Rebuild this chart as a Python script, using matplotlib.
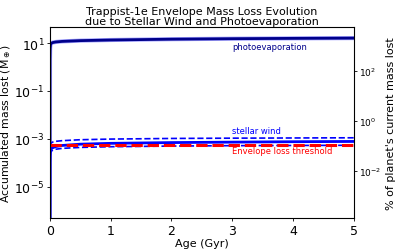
import numpy as np
import matplotlib
matplotlib.use("Agg")
import matplotlib.pyplot as plt
from matplotlib.ticker import NullLocator

# ages (Gyr) and accumulated mass lost (Earth masses)
age = [0.0, 0.002, 0.005, 0.01, 0.02, 0.05, 0.1, 0.2, 0.5, 1.0, 2.0, 3.0, 4.0, 5.0]
photoevap = [1e-7, 2.0, 6.0, 8.5, 9.8, 10.6, 11.2, 11.8, 12.7, 13.5, 14.6, 15.3, 15.8, 16.2]
wind = [1e-7, 1e-4, 2.5e-4, 3.3e-4, 3.9e-4, 4.3e-4, 4.8e-4, 5.3e-4, 6.0e-4, 6.5e-4, 7.0e-4, 7.3e-4, 7.6e-4, 7.8e-4]
wind_hi = [1e-7, 2e-4, 4.5e-4, 6.0e-4, 6.8e-4, 7.4e-4, 7.9e-4, 8.4e-4, 9.2e-4, 9.8e-4, 1.04e-3, 1.07e-3, 1.09e-3, 1.11e-3]
wind_lo = [1e-7, 7e-5, 1.8e-4, 2.5e-4, 3.0e-4, 3.4e-4, 3.7e-4, 4.0e-4, 4.4e-4, 4.7e-4, 5.0e-4, 5.2e-4, 5.3e-4, 5.4e-4]
threshold = 5.6e-4

fig = plt.figure(figsize=(3.99, 2.53), dpi=100)
ax = fig.add_axes([0.125, 0.134, 0.762, 0.755])

ax.plot(age, photoevap, color="blue", lw=3.0, alpha=0.35)
ax.plot(age, photoevap, color="darkblue", lw=2.0)
ax.plot(age, wind_hi, color="blue", lw=1.2, ls="--")
ax.plot(age, wind_lo, color="blue", lw=1.2, ls="--")
ax.plot(age, wind, color="blue", lw=2.0)
ax.plot([age[0], age[-1]], [threshold, threshold], color="red", lw=2.2, ls="--")

ax.text(3.0, 7.3, "photoevaporation", color="darkblue", fontsize=6, va="center")
ax.text(3.0, 2.2e-3, "stellar wind", color="blue", fontsize=6, va="center")
ax.text(3.0, 3.2e-4, "Envelope loss threshold", color="red", fontsize=6, va="center")

ax.set_yscale("log")
ax.set_xlim(0, 5)
ax.set_ylim(10**-6.31, 10**1.67)
ax.set_yticks([1e1, 1e-1, 1e-3, 1e-5])
ax.yaxis.set_minor_locator(NullLocator())
ax.tick_params(labelsize=9, length=2.5, pad=1.5, width=0.6)
for s in ax.spines.values():
    s.set_linewidth(0.7)
ax.set_xlabel("Age (Gyr)", fontsize=8, labelpad=1)
ax.set_ylabel(r"Accumulated mass lost (M$_\oplus$)", fontsize=7.8, labelpad=1)
ax.set_title("Trappist-1e Envelope Mass Loss Evolution\ndue to Stellar Wind and Photoevaporation",
             fontsize=8, linespacing=1.05, pad=2)

ax2 = ax.twinx()
ax2.set_yscale("log")
ax2.set_ylim(10**-3.89, 10**3.75)
ax2.set_yticks([1e2, 1e0, 1e-2])
ax2.yaxis.set_minor_locator(NullLocator())
ax2.tick_params(labelsize=6.5, length=2.5, pad=1.5, width=0.6)
ax2.set_ylabel("% of planet's current mass lost", fontsize=8, labelpad=3)

fig.savefig("out.png", dpi=100)
